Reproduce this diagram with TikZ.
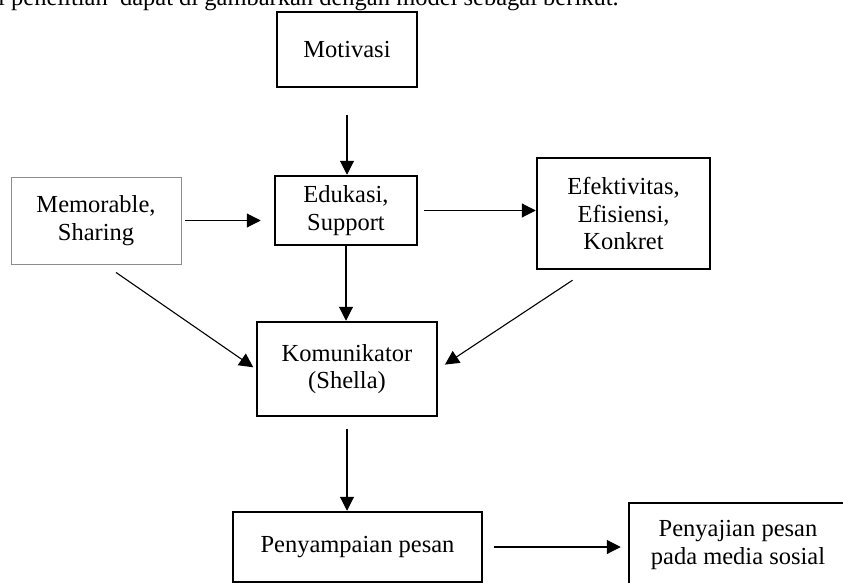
\documentclass[tikz,border=0pt]{standalone}
\usepackage{fontspec}
\setmainfont{Liberation Serif}
\usetikzlibrary{arrows.meta}

\tikzset{
  box/.style={draw=black,line width=2.5pt,inner sep=0pt,align=center,font=\fontsize{24.5}{27.5}\selectfont},
  thinbox/.style={draw=black!45,line width=0.9pt,inner sep=0pt,align=center,font=\fontsize{24.5}{27.5}\selectfont},
  arr/.style={line width=1.1pt,-{Triangle[length=14pt,width=14pt]}}
}

\begin{document}
\begin{tikzpicture}[x=1pt,y=-1pt]
				\useasboundingbox (0,0) rectangle (843,583);
				\clip (0,0) rectangle (843,583);
				
				\node[anchor=base west,inner sep=0pt,font=\fontsize{24.5}{27.5}\selectfont] (t0) at (-2,6) {i penelitian\ \ dapat di gambarkan dengan model sebagai berikut.};
				
				\node[box,minimum width=140pt,minimum height=75pt] (v1) at (347,49.5) {Motivasi};
				\node[thinbox,minimum width=170pt,minimum height=87pt] (v2) at (96,220.5) {Memorable,\\Sharing};
				\node[box,minimum width=142pt,minimum height=69pt] (v3) at (346,210.5) {Edukasi,\\Support};
				\node[box,minimum width=173pt,minimum height=111pt] (v4) at (623.5,213.5) {Efektivitas,\\Efisiensi,\\Konkret};
				\node[box,minimum width=180pt,minimum height=94pt] (v5) at (347,369) {Komunikator\\(Shella)};
				\node[box,minimum width=249pt,minimum height=70pt] (v6) at (357.5,547) {Penyampaian pesan};
				\node[box,minimum width=218pt,minimum height=84pt] (v7) at (738,545) {Penyajian pesan\\pada media sosial};
				
				\draw [arr,shorten <=27pt] (v1.south) -- (v1.south |- v3.north);
				\draw [arr,shorten <=4pt,shorten >=13pt] (v2.east) -- (v2.east -| v3.west);
				\draw [arr,shorten <=6pt] (v3.east) -- (v3.east -| v4.west);
				\draw [arr] (v3.south) -- (v3.south |- v5.north);
				\draw [arr,shorten >=3pt] ([xshift=20pt,yshift=-8pt]v2.south) -- (v5.west);
				\draw [arr,shorten >=8pt] ([xshift=-51pt,yshift=-10pt]v4.south) -- (v5.east);
				\draw [arr,shorten <=12pt] (v5.south) -- (v5.south |- v6.north);
				\draw [arr,shorten <=11pt,shorten >=7pt] (v6.east) -- (v6.east -| v7.west);
				\end{tikzpicture}
\end{document}
